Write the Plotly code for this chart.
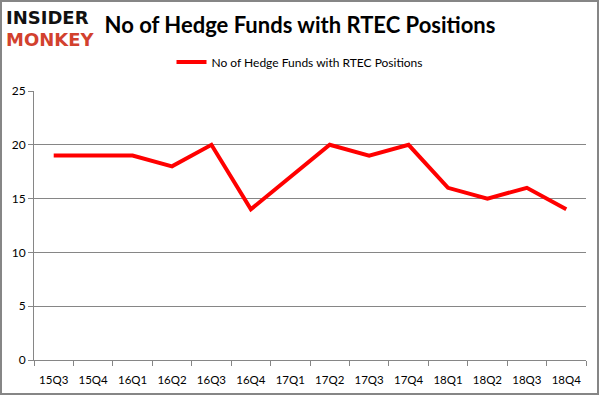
import plotly.graph_objects as go

quarters = ["15Q3", "15Q4", "16Q1", "16Q2", "16Q3", "16Q4", "17Q1",
            "17Q2", "17Q3", "17Q4", "18Q1", "18Q2", "18Q3", "18Q4"]
funds = [19, 19, 19, 18, 20, 14, 17, 20, 19, 20, 16, 15, 16, 14]
series_name = "No of Hedge Funds with RTEC Positions"
y_ticks = [0, 5, 10, 15, 20, 25]

W, H = 601, 396
ml, mr, mt, mb = 34, 15, 91, 36
pw, ph = W - ml - mr, H - mt - mb

def px_x(x):
    return (x - ml) / pw

def px_y(y):
    return (H - mb - y) / ph

fig = go.Figure()
fig.add_trace(go.Scatter(
    x=quarters, y=funds, mode="lines", name=series_name,
    line=dict(color="#ff0000", width=4),
))

fig.update_layout(
    width=W, height=H,
    margin=dict(l=ml, r=mr, t=mt, b=mb, autoexpand=False),
    paper_bgcolor="white", plot_bgcolor="white",
    font=dict(family="Lato, Open Sans, sans-serif", size=12, color="#000000"),
    showlegend=True,
    legend=dict(orientation="h", x=px_x(300), xanchor="center", y=px_y(62), yanchor="middle",
                itemwidth=30, font=dict(size=12), bgcolor="rgba(0,0,0,0)"),
    title=dict(text="<b>" + series_name + "</b>", xref="container", x=300 / W, xanchor="center",
               yref="container", y=1 - 25 / H, yanchor="middle",
               font=dict(size=22, color="#000000")),
    xaxis=dict(type="category", range=[-0.5, len(quarters) - 0.5],
               showline=True, linecolor="#868686", linewidth=1,
               ticks="outside", tickson="boundaries", ticklen=5, tickcolor="#868686",
               ticklabelstandoff=9, tickangle=0, automargin=False,
               showgrid=False, tickfont=dict(size=11.5)),
    yaxis=dict(range=[0, 25], tickvals=y_ticks, showline=True, linecolor="#868686",
               linewidth=1, ticks="outside", ticklen=5, tickcolor="#868686",
               showgrid=True, gridcolor="#868686", gridwidth=1, zeroline=False,
               automargin=False, tickfont=dict(size=12)),
    shapes=[dict(type="rect", xref="paper", yref="paper",
                 x0=px_x(1), x1=px_x(W - 3), y0=px_y(H - 2), y1=px_y(1),
                 line=dict(color="#868686", width=2), fillcolor="rgba(0,0,0,0)")],
    annotations=[
        dict(text="<b>INSIDER</b>", xref="paper", yref="paper", x=px_x(4), y=px_y(18),
             xanchor="left", yanchor="middle", showarrow=False,
             font=dict(family="DejaVu Sans", size=18, color="#111111")),
        dict(text="<b>MONKEY</b>", xref="paper", yref="paper", x=px_x(4), y=px_y(39),
             xanchor="left", yanchor="middle", showarrow=False,
             font=dict(family="DejaVu Sans", size=18, color="#d2412e")),
    ],
)

fig.write_html("out.html", config={"displayModeBar": False},
               post_script="document.body.style.margin='0';")
